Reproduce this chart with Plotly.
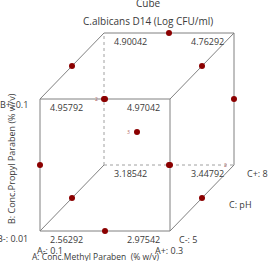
import plotly.graph_objects as go

# ---- data ----
title_main = "Cube"
title_sub = "C.albicans D14 (Log CFU/ml)"
factor_A = ["A: Conc.Methyl Paraben  (% w/v)", "A-: 0.1", "A+: 0.3"]
factor_B = ["B: Conc.Propyl Paraben (% w/v)", "B-: 0.01", "B+: 0.1"]
factor_C = ["C: pH", "C-: 5", "C+: 8"]

# cube corners in coded units (A, B, C) and predicted values
corner_A = [-1, 1, -1, 1, -1, 1, -1, 1]
corner_B = [-1, -1, 1, 1, -1, -1, 1, 1]
corner_C = [-1, -1, -1, -1, 1, 1, 1, 1]
corner_val = ["2.56292", "2.97542", "4.95792", "4.97042",
              "3.18542", "3.44792", "4.90042", "4.76292"]

# design points (coded): edge midpoints + centre
pt_A = [0, 0, -1, 1, 0, 0, -1, 1, -1, 1, -1, 1, 0]
pt_B = [-1, 1, 0, 0, -1, 1, 0, 0, -1, -1, 1, 1, 0]
pt_C = [-1, -1, -1, -1, 1, 1, 1, 1, 0, 0, 0, 0, 0]
# replicate counts shown next to points
rep_A = [0, 1, 0]
rep_B = [1, -1, 0]
rep_C = [-1, 1, 0]
rep_n = ["2", "2", "3"]

# ---- projection (layout) ----
X0, Y0, SX, SY, DX, DY = 40, 231, 130, 132, 64, -66


def proj(a, b, c):
    u, v, w = (a + 1) / 2, (b + 1) / 2, (c + 1) / 2
    return X0 + SX * u + DX * w, Y0 - SY * v + DY * w


LINE = "#808080"
RED = "#8b0000"
FONT = "Open Sans, Noto Sans, sans-serif"
TXT = "#3a3a3a"

fig = go.Figure()

hidden = (-1, -1, 1)
edges = []
for i in range(8):
    for j in range(i + 1, 8):
        p = (corner_A[i], corner_B[i], corner_C[i])
        q = (corner_A[j], corner_B[j], corner_C[j])
        if sum(x != y for x, y in zip(p, q)) == 1:
            edges.append((p, q))

for p, q in edges:
    x1, y1 = proj(*p)
    x2, y2 = proj(*q)
    touches = (p == hidden or q == hidden)
    dotted = touches and p[2] == q[2]
    fig.add_trace(go.Scatter(
        x=[x1, x2], y=[y1, y2], mode="lines", hoverinfo="skip",
        line=dict(color="#a0a0a0" if dotted else LINE, width=1,
                  dash="dot" if dotted else "solid"),
        showlegend=False))

px, py = zip(*[proj(a, b, c) for a, b, c in zip(pt_A, pt_B, pt_C)])
fig.add_trace(go.Scatter(x=list(px), y=list(py), mode="markers",
                         marker=dict(color=RED, size=6), showlegend=False))

ann = []
for a, b, c, v in zip(corner_A, corner_B, corner_C, corner_val):
    x, y = proj(a, b, c)
    ann.append(dict(x=x + (8 if a < 0 else -8), y=y + 8, text=v,
                    xanchor="left" if a < 0 else "right", yanchor="middle",
                    font=dict(size=9, color=TXT)))

for a, b, c, n in zip(rep_A, rep_B, rep_C, rep_n):
    x, y = proj(a, b, c)
    ann.append(dict(x=x - 5, y=y, text=n, xanchor="right", yanchor="middle",
                    font=dict(size=5, color="#b06060")))

ann += [
    dict(x=148, y=3, text=title_main, xanchor="center", yanchor="middle",
         font=dict(size=10, color=TXT)),
    dict(x=148, y=21, text=title_sub, xanchor="center", yanchor="middle",
         font=dict(size=10, color=TXT)),
    dict(x=30, y=104, text=factor_B[2], xanchor="right", yanchor="middle",
         font=dict(size=9, color=TXT)),
    dict(x=30, y=238, text=factor_B[1], xanchor="right", yanchor="middle",
         font=dict(size=9, color=TXT)),
    dict(x=11, y=159, text=factor_B[0], textangle=-90, xanchor="center",
         yanchor="middle", font=dict(size=9, color=TXT)),
    dict(x=35, y=250, text=factor_A[1], xanchor="left", yanchor="middle",
         font=dict(size=9, color=TXT)),
    dict(x=153, y=250, text=factor_A[2], xanchor="left", yanchor="middle",
         font=dict(size=9, color=TXT)),
    dict(x=95, y=256, text=factor_A[0], xanchor="center", yanchor="middle",
         font=dict(size=8.5, color=TXT)),
    dict(x=177, y=239, text=factor_C[1], xanchor="left", yanchor="middle",
         font=dict(size=9, color=TXT)),
    dict(x=245, y=173, text=factor_C[2], xanchor="left", yanchor="middle",
         font=dict(size=9, color=TXT)),
    dict(x=240, y=204, text=factor_C[0], xanchor="center", yanchor="middle",
         font=dict(size=9, color=TXT)),
]
for a in ann:
    a.update(xref="x", yref="y", showarrow=False)

fig.update_layout(
    width=270, height=261, margin=dict(l=0, r=0, t=0, b=0),
    paper_bgcolor="white", plot_bgcolor="white",
    font=dict(family=FONT),
    annotations=ann,
    xaxis=dict(range=[0, 270], visible=False, fixedrange=True),
    yaxis=dict(range=[261, 0], visible=False, fixedrange=True),
)
fig.write_html("out.html")
